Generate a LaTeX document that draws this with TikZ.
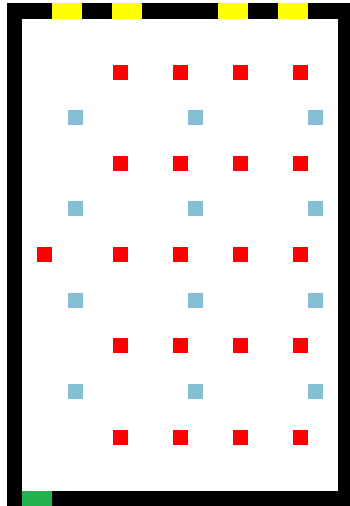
\documentclass[tikz,border=0pt]{standalone}
\definecolor{mWall}{HTML}{000000}
\definecolor{mExit}{HTML}{FFFF00}
\definecolor{mEntry}{HTML}{22B14C}
\definecolor{mRed}{HTML}{FF0000}
\definecolor{mBlue}{HTML}{86BED6}
\usepackage{tikz}
\usetikzlibrary{positioning}

\tikzset{
  redbox/.style={fill=mRed, minimum size=15pt, inner sep=0pt, outer sep=0pt},
  bluebox/.style={fill=mBlue, minimum size=15pt, inner sep=0pt, outer sep=0pt}
}

\begin{document}
\begin{tikzpicture}[x=1pt,y=-1pt]
\useasboundingbox (0,0) rectangle (350,506);
\fill[white] (0,0) rectangle (350,506);
% walls
\fill[mWall] (7,3) rectangle (350,506);
\fill[white] (22,19) rectangle (338,491);
% exits on top, entry at bottom
\foreach \x in {52,112,218,278}
  \fill[mExit] (\x,3) rectangle ++(30,16);
\fill[mEntry] (22,491) rectangle (52,506);
% red squares
\foreach \y [count=\r] in {72,163,254,345,437}
  \foreach \x [count=\c] in {120,180,240,300}
    \node[redbox] (red\r\c) at (\x,\y) {};
\node[redbox] (red30) at (44,254) {};
% blue squares
\foreach \y [count=\r] in {117,208,300,391}
  \foreach \x [count=\c] in {75,195,315}
    \node[bluebox] (blue\r\c) at (\x,\y) {};
\end{tikzpicture}
\end{document}
